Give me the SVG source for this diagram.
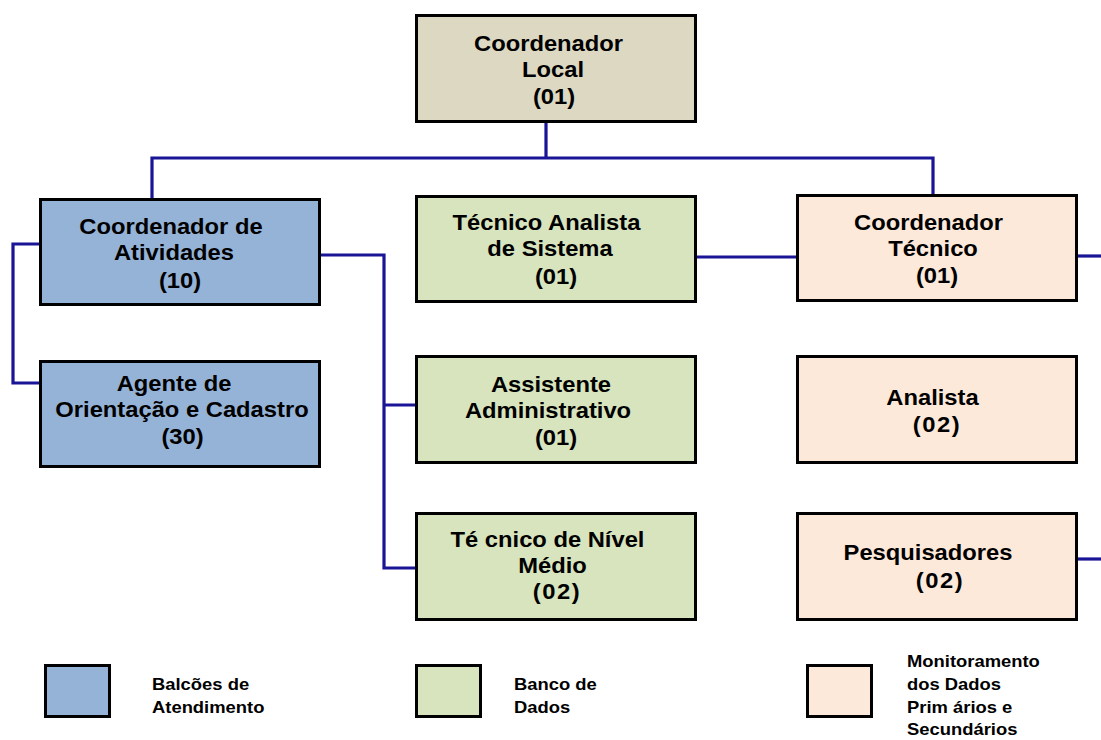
<svg xmlns="http://www.w3.org/2000/svg" width="1101" height="740" viewBox="0 0 1101 740">
<style>
.box{stroke:#000;stroke-width:3}
.tan{fill:#ddd8c2}
.blue{fill:#95b3d7}
.green{fill:#d7e4bd}
.peach{fill:#fde9d9}
.t{font-family:"Liberation Sans",Arial,sans-serif;font-weight:bold;font-size:22px;fill:#000;text-anchor:middle}
.lg{font-family:"Liberation Sans",Arial,sans-serif;font-weight:bold;font-size:16px;fill:#000}
.conn{fill:none;stroke:#1a1496;stroke-width:3.2;stroke-linejoin:miter}
</style>
<rect width="1101" height="740" fill="#fff"/>
<g id="connectors">
<path class="conn" d="M546,123 V158 M152,198 V158 H933 V194"/>
<path class="conn" d="M39,244 H13 V383 H39"/>
<path class="conn" d="M321,255 H384 V568 H415 M384,405 H415"/>
<path class="conn" d="M697,257 H796"/>
<path class="conn" d="M1078,256 H1101"/>
<path class="conn" d="M1078,559 H1101"/>
</g>
<g id="coordenador-local">
<rect class="box tan" x="416.5" y="15.5" width="279" height="106"/>
<text class="t" transform="translate(548.5,51) scale(1.08,1)">Coordenador</text>
<text class="t" transform="translate(553,77) scale(1.08,1)">Local</text>
<text class="t" transform="translate(554,104) scale(1.08,1)">(01)</text>
</g>
<g id="coordenador-atividades">
<rect class="box blue" x="40.5" y="199.5" width="279" height="105"/>
<text class="t" transform="translate(171,234) scale(1.08,1)">Coordenador de</text>
<text class="t" transform="translate(174,260) scale(1.08,1)">Atividades</text>
<text class="t" transform="translate(180,288) scale(1.08,1)">(10)</text>
</g>
<g id="agente-orientacao">
<rect class="box blue" x="40.5" y="361.5" width="279" height="105"/>
<text class="t" transform="translate(174,391) scale(1.08,1)">Agente de</text>
<text class="t" transform="translate(182,417) scale(1.08,1)">Orientação e Cadastro</text>
<text class="t" transform="translate(182.5,444) scale(1.08,1)">(30)</text>
</g>
<g id="tecnico-analista">
<rect class="box green" x="416.5" y="196.5" width="279" height="105"/>
<text class="t" transform="translate(546.5,230) scale(1.08,1)">Técnico Analista</text>
<text class="t" transform="translate(550,256) scale(1.08,1)">de Sistema</text>
<text class="t" transform="translate(556,284) scale(1.08,1)">(01)</text>
</g>
<g id="assistente-administrativo">
<rect class="box green" x="416.5" y="356.5" width="279" height="106"/>
<text class="t" transform="translate(551,392) scale(1.08,1)">Assistente</text>
<text class="t" transform="translate(548,418) scale(1.08,1)">Administrativo</text>
<text class="t" transform="translate(556,445) scale(1.08,1)">(01)</text>
</g>
<g id="tecnico-nivel-medio">
<rect class="box green" x="416.5" y="513.5" width="279" height="106"/>
<text class="t" transform="translate(547.5,547) scale(1.08,1)">Té cnico de Nível</text>
<text class="t" transform="translate(552.5,573) scale(1.08,1)">Médio</text>
<text class="t" transform="translate(557,599) scale(1.08,1)" letter-spacing="1.5">(02)</text>
</g>
<g id="coordenador-tecnico">
<rect class="box peach" x="797.5" y="195.5" width="279" height="105"/>
<text class="t" transform="translate(928.5,230) scale(1.08,1)">Coordenador</text>
<text class="t" transform="translate(933,256) scale(1.08,1)">Técnico</text>
<text class="t" transform="translate(937,283) scale(1.08,1)">(01)</text>
</g>
<g id="analista">
<rect class="box peach" x="797.5" y="356.5" width="279" height="106"/>
<text class="t" transform="translate(932.5,405) scale(1.08,1)">Analista</text>
<text class="t" transform="translate(937,432) scale(1.08,1)" letter-spacing="1.5">(02)</text>
</g>
<g id="pesquisadores">
<rect class="box peach" x="797.5" y="513.5" width="279" height="106"/>
<text class="t" transform="translate(928,560) scale(1.08,1)">Pesquisadores</text>
<text class="t" transform="translate(940,588) scale(1.08,1)" letter-spacing="1.5">(02)</text>
</g>
<g id="legend">
<rect class="box blue" x="45.5" y="665.5" width="64" height="51"/>
<text class="lg" transform="translate(152,690) scale(1.15,1)">Balcões de</text>
<text class="lg" transform="translate(152,713) scale(1.15,1)">Atendimento</text>
<rect class="box green" x="416.5" y="665.5" width="64" height="51"/>
<text class="lg" transform="translate(514,690) scale(1.15,1)">Banco de</text>
<text class="lg" transform="translate(514,713) scale(1.15,1)">Dados</text>
<rect class="box peach" x="807.5" y="665.5" width="64" height="51"/>
<text class="lg" transform="translate(907,667) scale(1.15,1)">Monitoramento</text>
<text class="lg" transform="translate(907,690) scale(1.15,1)">dos Dados</text>
<text class="lg" transform="translate(907,713) scale(1.15,1)">Prim ários e</text>
<text class="lg" transform="translate(907,735) scale(1.15,1)">Secundários</text>
</g>
</svg>
